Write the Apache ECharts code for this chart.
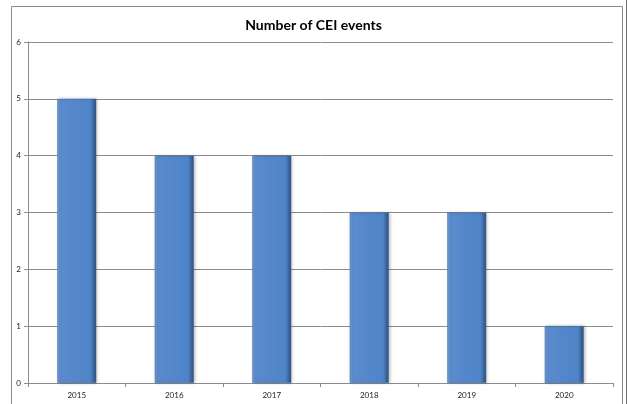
<!DOCTYPE html>
<html>
<head>
<meta charset="utf-8">
<script src="https://cdn.jsdelivr.net/npm/echarts@6/dist/echarts.min.js"></script>
<style>
  html, body { margin: 0; padding: 0; background: #fff; }
  #chart { width: 627px; height: 404px; }
</style>
</head>
<body>
<div id="chart"></div>
<script>
// data
const years = ['2015', '2016', '2017', '2018', '2019', '2020'];
const events = [5, 4, 4, 3, 3, 1];
const yTicks = { min: 0, max: 6, step: 1 };

const myChart = echarts.init(document.getElementById('chart'), null, { renderer: 'canvas' });

const barColor = new echarts.graphic.LinearGradient(0, 0, 1, 0, [
  { offset: 0, color: '#7ea3d6' },
  { offset: 0.07, color: '#5a8bcd' },
  { offset: 0.85, color: '#4f84c8' },
  { offset: 1, color: '#2f4f7a' }
]);

const options = {
  animation: false,
  backgroundColor: '#fff',
  title: {
    text: 'Number of CEI events',
    left: 'center',
    top: 13,
    textStyle: { fontFamily: 'Lato', fontWeight: 'bold', fontSize: 14, color: '#000' }
  },
  grid: { left: 28, right: 14, top: 42, bottom: 21, containLabel: false },
  // chart frame
  graphic: [
    {
      type: 'rect',
      shape: { x: 11.5, y: 6.5, width: 611, height: 430 },
      style: { fill: 'none', stroke: '#8c8c8c', lineWidth: 1 },
      z: -1
    },
    {
      type: 'line',
      shape: { x1: 626.5, y1: 0, x2: 626.5, y2: 404 },
      style: { stroke: '#6e6e6e', lineWidth: 1 }
    }
  ],
  xAxis: {
    type: 'category',
    data: years,
    axisLine: { lineStyle: { color: '#8c8c8c' } },
    axisTick: { show: true, length: 4, lineStyle: { color: '#8c8c8c' } },
    axisLabel: { fontFamily: 'Lato', fontSize: 8, color: '#222', margin: 8 }
  },
  yAxis: {
    type: 'value',
    min: yTicks.min,
    max: yTicks.max,
    interval: yTicks.step,
    axisLine: { show: true, lineStyle: { color: '#8c8c8c' } },
    axisTick: { show: true, length: 4, lineStyle: { color: '#8c8c8c' } },
    axisLabel: { fontFamily: 'Lato', fontSize: 8, color: '#222', margin: 7 },
    splitLine: { lineStyle: { color: '#8c8c8c', width: 1 } }
  },
  series: [
    {
      name: 'Number of CEI events',
      type: 'bar',
      data: events,
      barWidth: '40%',
      itemStyle: {
        color: barColor,
        borderColor: '#3e6aa3',
        borderWidth: 0.5,
        shadowColor: 'rgba(0,0,0,0.25)',
        shadowBlur: 3,
        shadowOffsetX: 1
      }
    }
  ]
};
myChart.setOption(options);
</script>
</body>
</html>
